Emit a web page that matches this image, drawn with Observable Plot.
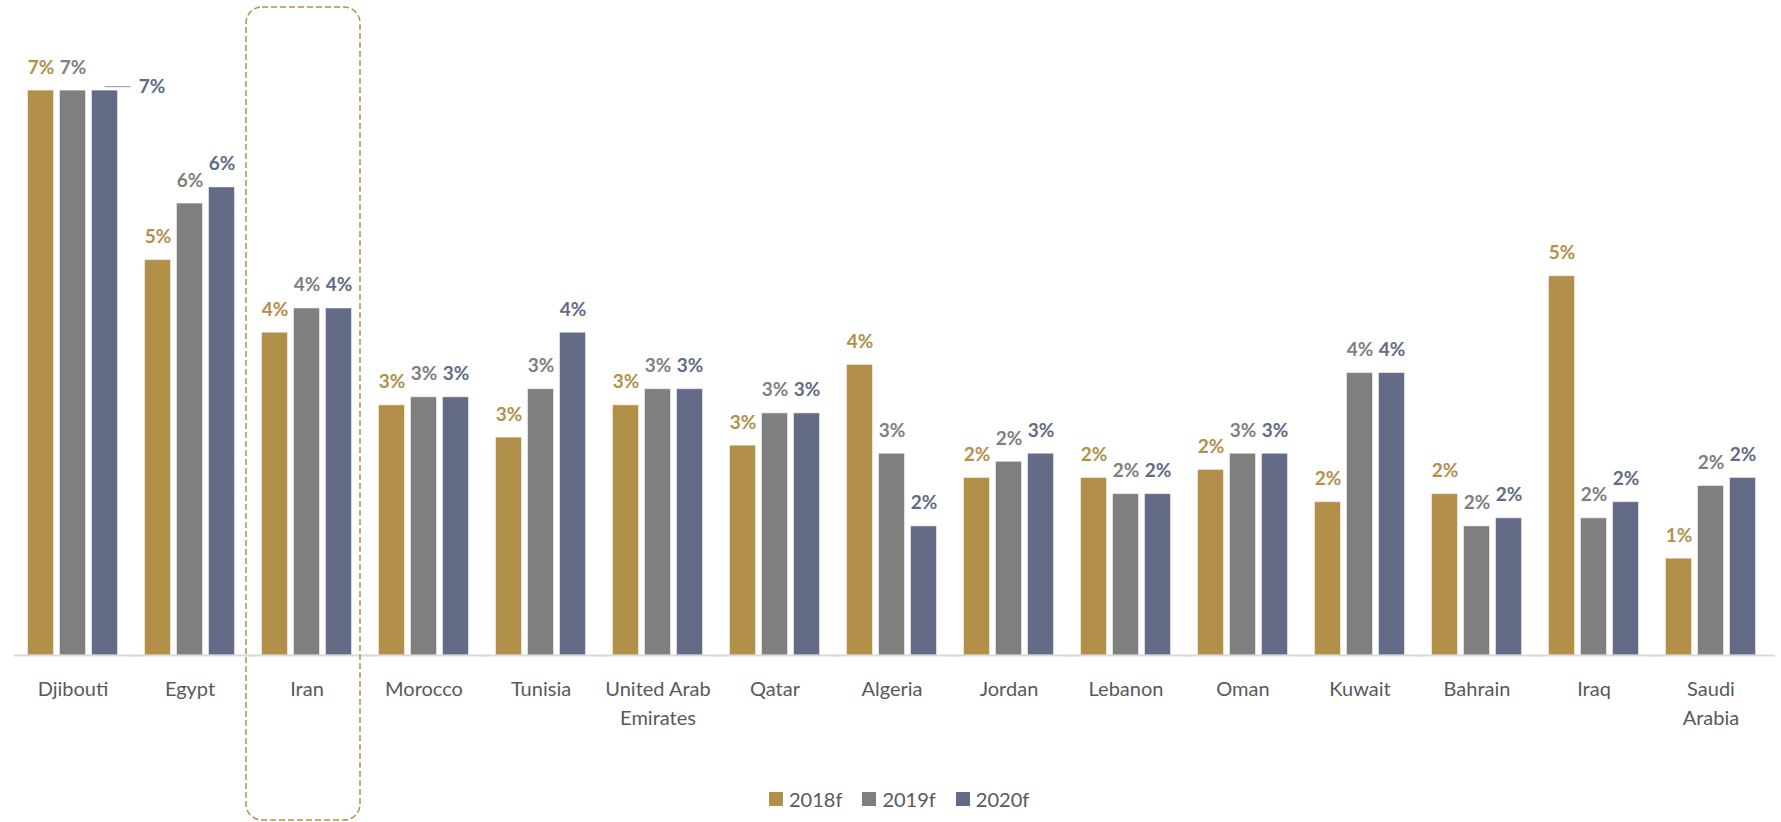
<!DOCTYPE html>
<html>
<head>
<meta charset="utf-8">
<script src="https://cdn.jsdelivr.net/npm/d3@7"></script>
<script src="https://cdn.jsdelivr.net/npm/@observablehq/plot@0.6"></script>
<style>
  html, body { margin: 0; padding: 0; background: #fff; }
  #wrap { position: relative; width: 1781px; height: 822px; overflow: hidden; font-family: Lato, "Open Sans", sans-serif; }
  #legend { position: absolute; left: 769px; top: 787px; display: flex; align-items: center; font-size: 20px; color: #595959; }
  #legend .item { display: flex; align-items: center; margin-right: 20px; }
  #legend .sw { width: 14px; height: 14px; margin-right: 6px; }
</style>
</head>
<body>
<div id="wrap"><div id="chart"></div><div id="legend"></div></div>
<script>
const countries = ["Djibouti","Egypt","Iran","Morocco","Tunisia","United Arab Emirates","Qatar","Algeria","Jordan","Lebanon","Oman","Kuwait","Bahrain","Iraq","Saudi Arabia"];
const tickLabels = ["Djibouti","Egypt","Iran","Morocco","Tunisia","United Arab\nEmirates","Qatar","Algeria","Jordan","Lebanon","Oman","Kuwait","Bahrain","Iraq","Saudi\nArabia"];
const series = ["2018f","2019f","2020f"];
const v2018 = [7.0,4.9,4.0,3.1,2.7,3.1,2.6,3.6,2.2,2.2,2.3,1.9,2.0,4.7,1.2];
const v2019 = [7.0,5.6,4.3,3.2,3.3,3.3,3.0,2.5,2.4,2.0,2.5,3.5,1.6,1.7,2.1];
const v2020 = [7.0,5.8,4.3,3.2,4.0,3.3,3.0,1.6,2.5,2.0,2.5,3.5,1.7,1.9,2.2];
const colors = ["#B3904A","#7F7F7F","#636B86"];
const highlighted = "Iran";

const values = [v2018, v2019, v2020];
const data = [];
countries.forEach((c, i) => series.forEach((s, j) => data.push({country: c, series: s, value: values[j][i]})));
const isMoved = d => d.country === "Djibouti" && d.series === "2020f";
const labelMap = new Map(countries.map((c, i) => [c, tickLabels[i]]));
const fmt = d => Math.round(d.value) + "%";

const chart = Plot.plot({
  width: 1781,
  height: 822,
  marginTop: 9.4,
  marginBottom: 167,
  marginLeft: 8.5,
  marginRight: 7,
  style: {fontFamily: "Lato, 'Open Sans', sans-serif", background: "transparent", overflow: "visible"},
  fx: {domain: countries, paddingInner: 0.168, paddingOuter: 0.084, axis: null, label: null},
  x: {domain: series, paddingInner: 0.2, paddingOuter: 0.1, axis: null},
  y: {domain: [0, 8], axis: null},
  color: {domain: series, range: colors},
  marks: [
    Plot.barY(data, {fx: "country", x: "series", y: "value", fill: "series", stroke: "#ffffff", strokeOpacity: 0.5, strokeWidth: 1}),
    Plot.ruleY([0], {stroke: "#d9d9d9", strokeWidth: 2, insetLeft: -10, insetRight: -16}),
    Plot.text(data.filter(d => !isMoved(d)), {fx: "country", x: "series", y: "value", text: fmt, fill: "series",
      lineAnchor: "bottom", dy: -17, fontSize: 19, fontWeight: "bold"}),
    Plot.tickY(data.filter(isMoved), {fx: "country", x: "series", y: "value", dx: 13, dy: -4, stroke: "#a6a6a6", strokeWidth: 1.2}),
    Plot.text(data.filter(isMoved), {fx: "country", x: "series", y: "value", text: fmt, fill: "series",
      lineAnchor: "middle", dx: 47, dy: -4, fontSize: 19, fontWeight: "bold"}),
    Plot.text(countries, {fx: d => d, text: d => labelMap.get(d), frameAnchor: "bottom", lineAnchor: "top",
      dy: 20, fontSize: 20, fill: "#595959", lineHeight: 1.45}),
    Plot.barY([highlighted], {fx: d => d, y1: 0, y2: 8, fill: "none", stroke: colors[0], strokeWidth: 1.5,
      strokeDasharray: "6,3", rx: 16, insetLeft: -12, insetRight: -5, insetTop: -2.5, insetBottom: -165})
  ]
});
document.getElementById("chart").appendChild(chart);

const legend = document.getElementById("legend");
series.forEach((s, i) => {
  const item = document.createElement("div");
  item.className = "item";
  const sw = document.createElement("div");
  sw.className = "sw";
  sw.style.background = colors[i];
  const t = document.createElement("span");
  t.textContent = s;
  item.appendChild(sw);
  item.appendChild(t);
  legend.appendChild(item);
});
</script>
</body>
</html>
